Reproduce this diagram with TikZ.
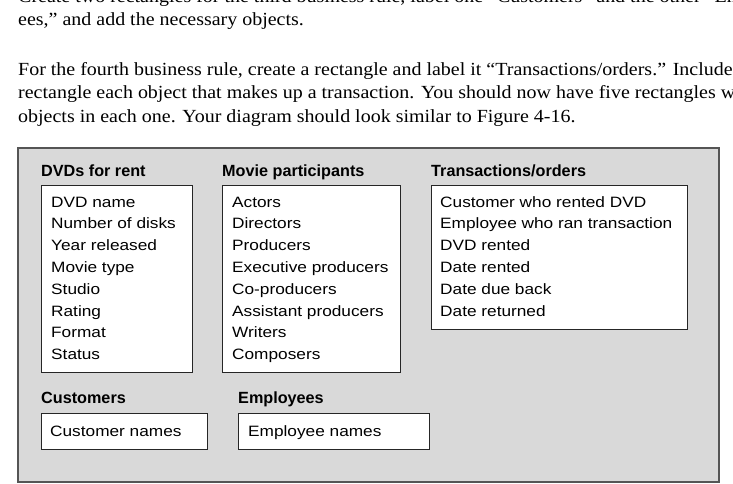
\documentclass[tikz,border=0pt]{standalone}
\usepackage{fontspec}
\setmainfont[FakeStretch=1.08]{Liberation Serif}
\newfontfamily\boxfont[FakeStretch=1.15]{Liberation Sans}
\newfontfamily\headfont{Liberation Sans}
\definecolor{panelgray}{HTML}{D9D9D9}
\definecolor{paneledge}{HTML}{555555}
\tikzset{
  listbox/.style = {draw = black!85, fill = white, line width = 0.8pt, anchor = north west, inner sep = 0pt},
  item/.style = {anchor = base west, inner sep = 0pt, font = \boxfont\fontsize{15}{18}\selectfont},
  head/.style = {anchor = base west, inner sep = 0pt, font = \headfont\bfseries\fontsize{16.2}{19}\selectfont},
  para/.style = {anchor = base west, inner sep = 0pt, font = \fontsize{18.5}{23}\selectfont}
}
\begin{document}
\begin{tikzpicture}[x = 1pt, y = -1pt]
\useasboundingbox (0,0) rectangle (733,484);
\clip (0,0) rectangle (733,484);
\foreach \n / \y / \t in {1/3/{Create two rectangles for the third business rule, label one “Customers” and the other “Employ-},
  2/26/{ees,” and add the necessary objects.},
  3/76/{For the fourth business rule, create a rectangle and label it “Transactions/orders.” Include in},
  4/99/{rectangle each object that makes up a transaction. You should now have five rectangles with},
  5/122/{objects in each one. Your diagram should look similar to Figure 4-16.}}
{
  \node[para] (line\n) at (18,\y) {\t};
}
\node[draw = paneledge, fill = panelgray, line width = 1.5pt, anchor = north west, inner sep = 0pt,
  minimum width = 701pt, minimum height = 334pt] (panel) at (17,147) {};
\node[listbox, minimum width = 151pt, minimum height = 187pt] (dvd) at (41,185) {};
\node[listbox, minimum width = 178pt, minimum height = 187pt] (movie) at (222,185) {};
\node[listbox, minimum width = 256pt, minimum height = 144pt] (trans) at (431,185) {};
\node[listbox, minimum width = 166pt, minimum height = 36pt] (cust) at (41,413) {};
\node[listbox, minimum width = 191pt, minimum height = 36pt] (emp) at (238,413) {};
\node[head] (dvdhead) at (41,176) {DVDs for rent};
\node[head] (moviehead) at (222,176) {Movie participants};
\node[head] (transhead) at (431,176) {Transactions/orders};
\node[head] (custhead) at (41,403) {Customers};
\node[head] (emphead) at (238,403) {Employees};
\foreach \i / \t in {0/DVD name, 1/Number of disks, 2/Year released, 3/Movie type, 4/Studio, 5/Rating, 6/Format, 7/Status}
{
  \node[item] (dvd\i) at (51,207+21.8*\i) {\t};
}
\foreach \i / \t in {0/Actors, 1/Directors, 2/Producers, 3/Executive producers, 4/Co-producers, 5/Assistant producers, 6/Writers, 7/Composers}
{
  \node[item] (movie\i) at (232,207+21.8*\i) {\t};
}
\foreach \i / \t in {0/Customer who rented DVD, 1/Employee who ran transaction, 2/DVD rented, 3/Date rented, 4/Date due back, 5/Date returned}
{
  \node[item] (trans\i) at (440,207+21.8*\i) {\t};
}
\node[item] (cust0) at (50,436) {Customer names};
\node[item] (emp0) at (248,436) {Employee names};
\end{tikzpicture}
\end{document}
